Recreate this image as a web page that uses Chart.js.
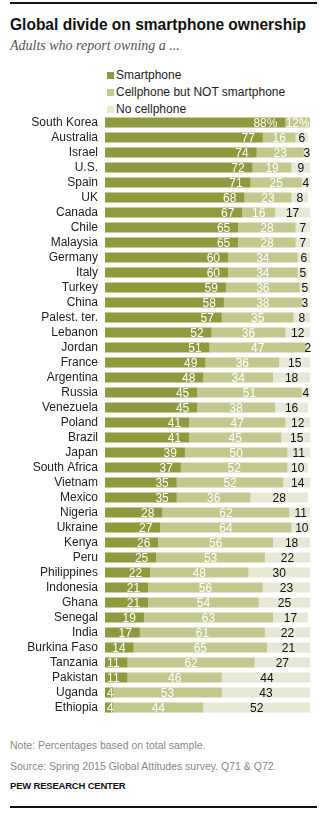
<!DOCTYPE html>
<html lang="en">
<head>
    <meta charset="UTF-8">
    <title>Global divide on smartphone ownership</title>
    <script src="https://cdn.jsdelivr.net/npm/chart.js"></script>
    <style>
        body {
            margin: 0;
            width: 327px;
            height: 813px;
            position: relative;
            background: #fff;
            font-family: "Liberation Sans", Arial, sans-serif;
            overflow: hidden;
        }
        .rule {
            position: absolute;
            left: 10px;
            width: 307px;
            height: 2px;
            background: #111;
        }
        h1 {
            position: absolute;
            left: 10px;
            top: 15px;
            margin: 0;
            font-size: 16.5px;
            font-weight: bold;
            color: #111;
            white-space: nowrap;
            transform-origin: 0 0;
        }
        .sub {
            position: absolute;
            left: 10px;
            top: 38px;
            font-family: "Liberation Serif", "DejaVu Serif", serif;
            font-style: italic;
            font-size: 14px;
            color: #555;
            white-space: nowrap;
        }
        .legend {
            position: absolute;
            left: 107px;
            top: 67px;
            font-size: 12px;
            color: #222;
        }
        .legend div {
            height: 17px;
            line-height: 17px;
            white-space: nowrap;
        }
        .legend span {
            display: inline-block;
            width: 7px;
            height: 7px;
            margin-right: 2px;
            vertical-align: 0px;
        }
        #chart {
            position: absolute;
            left: 0;
            top: 115px;
        }
        .note {
            position: absolute;
            left: 10px;
            font-size: 10.5px;
            color: #888;
            white-space: nowrap;
        }
        .pew {
            position: absolute;
            left: 10px;
            top: 780px;
            font-size: 9.5px;
            font-weight: bold;
            color: #111;
            letter-spacing: -0.2px;
        }
    </style>
</head>
<body>
    <div class="rule" style="top:2px"></div>
    <h1 id="title">Global divide on smartphone ownership</h1>
    <div class="sub">Adults who report owning a ...</div>
    <div class="legend" id="legend"></div>
    <canvas id="chart" width="327" height="600"></canvas>
    <div class="note" style="top:739px">Note: Percentages based on total sample.</div>
    <div class="note" style="top:760px">Source: Spring 2015 Global Attitudes survey. Q71 &amp; Q72.</div>
    <div class="pew">PEW RESEARCH CENTER</div>
    <div class="rule" style="top:806px"></div>

    <script>
        const countries = ["South Korea", "Australia", "Israel", "U.S.", "Spain", "UK", "Canada", "Chile",
            "Malaysia", "Germany", "Italy", "Turkey", "China", "Palest. ter.", "Lebanon", "Jordan", "France",
            "Argentina", "Russia", "Venezuela", "Poland", "Brazil", "Japan", "South Africa", "Vietnam", "Mexico",
            "Nigeria", "Ukraine", "Kenya", "Peru", "Philippines", "Indonesia", "Ghana", "Senegal", "India",
            "Burkina Faso", "Tanzania", "Pakistan", "Uganda", "Ethiopia"];
        const smartphone = [88, 77, 74, 72, 71, 68, 67, 65, 65, 60, 60, 59, 58, 57, 52, 51, 49, 48, 45, 45,
            41, 41, 39, 37, 35, 35, 28, 27, 26, 25, 22, 21, 21, 19, 17, 14, 11, 11, 4, 4];
        const cellOnly = [12, 16, 23, 19, 25, 23, 16, 28, 28, 34, 34, 36, 38, 35, 36, 47, 36, 34, 51, 38,
            47, 45, 50, 52, 52, 36, 62, 64, 56, 53, 48, 56, 54, 63, 61, 65, 62, 46, 53, 44];
        const noCell = [0, 6, 3, 9, 4, 8, 17, 7, 7, 6, 5, 5, 3, 8, 12, 2, 15, 18, 4, 16,
            12, 15, 11, 10, 14, 28, 11, 10, 18, 22, 30, 23, 25, 17, 22, 21, 27, 44, 43, 52];
        const seriesNames = ["Smartphone", "Cellphone but NOT smartphone", "No cellphone"];
        const colors = ["#8f9a3e", "#c3c88f", "#e7e8d6"];

        // squeeze the title to the width of the condensed original
        const title = document.getElementById("title");
        title.style.transform = "scaleX(" + (296 / title.getBoundingClientRect().width) + ")";

        // html legend, stacked vertically like the original
        const legendEl = document.getElementById("legend");
        seriesNames.forEach((name, i) => {
            const row = document.createElement("div");
            row.innerHTML = '<span style="background:' + colors[i] + '"></span>' + name;
            legendEl.appendChild(row);
        });

        const valueLabels = {
            id: "valueLabels",
            afterDatasetsDraw(chart) {
                const ctx = chart.ctx;
                ctx.save();
                ctx.font = "12px 'Liberation Sans', Arial, sans-serif";
                ctx.textBaseline = "middle";
                chart.data.datasets.forEach((ds, di) => {
                    const meta = chart.getDatasetMeta(di);
                    meta.data.forEach((bar, i) => {
                        const v = ds.data[i];
                        if (!v) return;
                        let txt = String(v);
                        if (i === 0) txt += "%";
                        const w = ctx.measureText(txt).width;
                        const left = Math.min(bar.base, bar.x);
                        const right = Math.max(bar.base, bar.x);
                        let x;
                        if (di === 0) {
                            x = Math.max(left + 2, right - 8 - w);
                            ctx.fillStyle = "#fff";
                        } else {
                            x = (left + right) / 2 - w / 2;
                            ctx.fillStyle = di === 1 ? "#fff" : "#111";
                        }
                        ctx.fillText(txt, x, bar.y + 1);
                    });
                });
                ctx.restore();
            }
        };

        const ctx = document.getElementById("chart").getContext("2d");
        const chart = new Chart(ctx, {
            type: "bar",
            data: {
                labels: countries,
                datasets: [
                    { label: seriesNames[0], data: smartphone, backgroundColor: colors[0] },
                    { label: seriesNames[1], data: cellOnly, backgroundColor: colors[1] },
                    { label: seriesNames[2], data: noCell, backgroundColor: colors[2] }
                ]
            },
            options: {
                indexAxis: "y",
                responsive: false,
                devicePixelRatio: 1,
                animation: false,
                datasets: { bar: { barPercentage: 0.67, categoryPercentage: 1 } },
                layout: { padding: { left: 0, right: 17, top: 0, bottom: 0 } },
                plugins: { legend: { display: false }, tooltip: { enabled: false } },
                scales: {
                    x: { stacked: true, min: 0, max: 100, display: false },
                    y: {
                        stacked: true,
                        grid: { display: false, drawTicks: false },
                        border: { display: false },
                        ticks: {
                            color: "#222",
                            autoSkip: false,
                            padding: 7,
                            font: { size: 12, family: "'Liberation Sans', Arial, sans-serif" }
                        },
                        afterFit: (scale) => {
                            scale.width = 105;
                            scale.paddingTop = 0;
                            scale.paddingBottom = 0;
                        }
                    }
                }
            },
            plugins: [valueLabels]
        });
    </script>
</body>
</html>
